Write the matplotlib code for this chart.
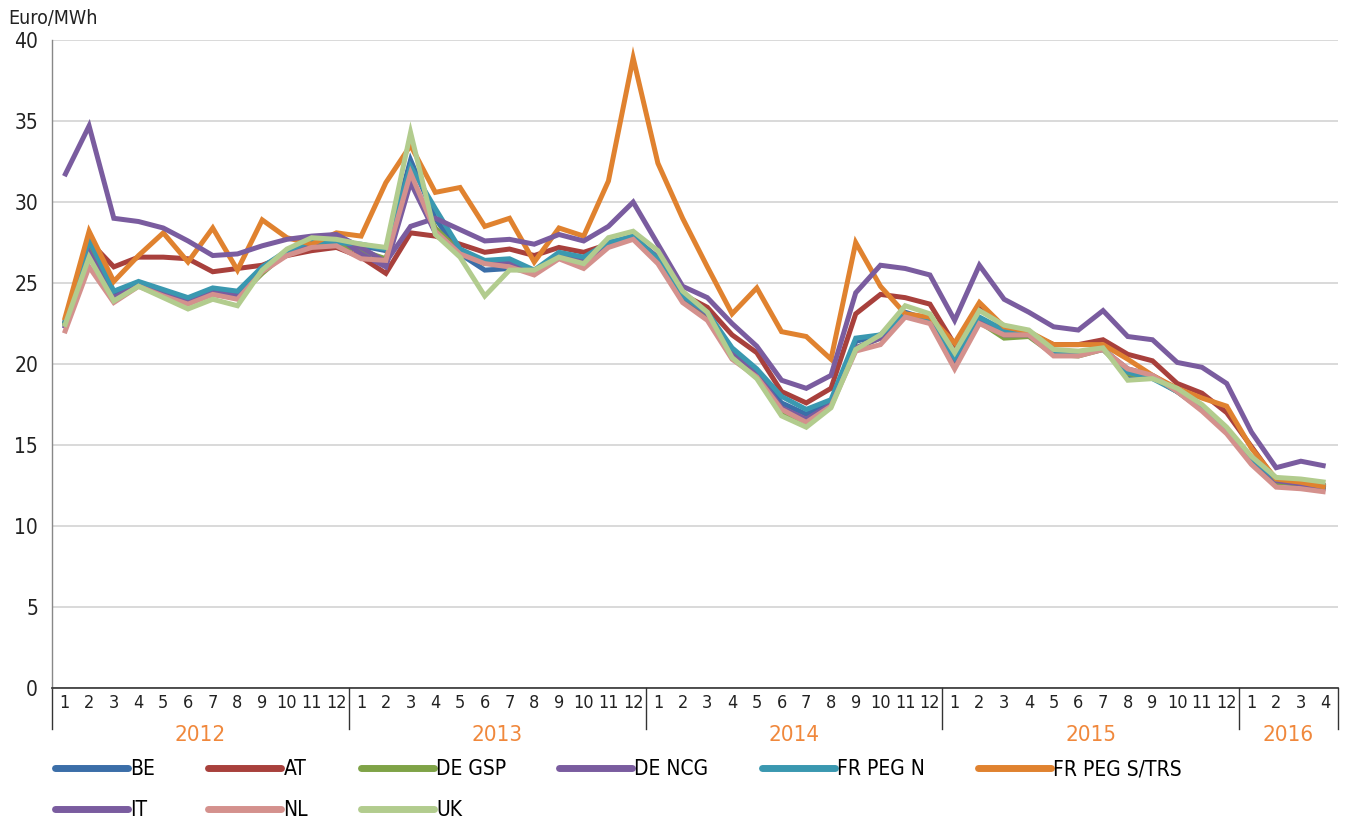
import matplotlib
matplotlib.use("Agg")
import matplotlib.pyplot as plt
import matplotlib.transforms as mtransforms
import numpy as np

plt.rcParams["font.family"] = ["DejaVu Sans"]
plt.rcParams["font.stretch"] = "condensed"

# ── data ──────────────────────────────────────────────────────────────────
YEARS = ["2012", "2013", "2014", "2015", "2016"]
MONTHS_PER_YEAR = [12, 12, 12, 12, 4]
MONTH_LABELS = [str(m) for n in MONTHS_PER_YEAR for m in range(1, n + 1)]

BE = [22.3, 27.4, 24.3, 25.0, 24.5, 24.0, 24.6, 24.3, 25.8, 26.8, 27.5, 27.5,
      27.3, 27.0, 32.6, 29.0, 26.8, 25.8, 25.9, 25.7, 26.7, 26.4, 27.5, 27.8,
      26.5, 24.1, 23.1, 20.7, 19.4, 17.6, 16.9, 17.6, 21.4, 21.8, 23.2, 22.7,
      20.3, 22.8, 22.0, 21.9, 20.7, 20.6, 21.0, 19.3, 19.2, 18.3, 17.2, 15.9,
      14.1, 12.7, 12.6, 12.3]
AT = [22.5, 27.6, 26.0, 26.6, 26.6, 26.5, 25.7, 25.9, 26.1, 26.7, 27.0, 27.2,
      26.6, 25.6, 28.1, 27.9, 27.4, 26.9, 27.1, 26.7, 27.2, 26.9, 27.4, 27.9,
      26.5, 24.3, 23.5, 21.8, 20.7, 18.3, 17.6, 18.5, 23.1, 24.3, 24.1, 23.7,
      21.2, 23.6, 22.3, 21.9, 21.2, 21.2, 21.5, 20.6, 20.2, 18.8, 18.2, 17.0,
      14.9, 12.8, 12.6, 12.5]
DE_GSP = [22.4, 27.0, 24.0, 24.9, 24.3, 23.9, 24.3, 24.1, 25.6, 26.9, 27.4, 27.4,
          27.0, 26.5, 31.5, 28.4, 26.9, 26.2, 26.3, 25.7, 26.6, 26.2, 27.4, 27.8,
          26.5, 24.2, 23.0, 20.7, 19.3, 17.0, 16.4, 17.5, 21.0, 21.6, 23.0, 22.6,
          20.2, 22.6, 21.6, 21.7, 20.6, 20.5, 20.9, 19.4, 19.2, 18.3, 17.2, 15.9,
          14.1, 12.7, 12.6, 12.3]
DE_NCG = [22.2, 26.9, 24.1, 24.9, 24.3, 23.9, 24.4, 24.2, 25.8, 26.9, 27.4, 27.9,
          26.8, 26.0, 31.2, 28.1, 26.9, 26.3, 26.3, 25.7, 26.6, 26.3, 27.4, 27.8,
          26.6, 24.2, 23.1, 20.7, 19.4, 17.3, 16.6, 17.5, 21.0, 21.6, 23.0, 22.6,
          20.3, 22.7, 21.8, 21.8, 20.6, 20.6, 20.9, 19.7, 19.3, 18.4, 17.3, 16.0,
          14.2, 12.8, 12.6, 12.3]
FR_PEG_N = [22.5, 27.7, 24.5, 25.1, 24.6, 24.1, 24.7, 24.5, 26.0, 27.0, 27.6, 27.5,
            27.4, 27.1, 32.2, 29.6, 27.1, 26.4, 26.5, 25.8, 26.9, 26.6, 27.5, 27.9,
            26.5, 24.2, 23.2, 21.0, 19.7, 18.0, 17.2, 17.8, 21.6, 21.8, 23.1, 22.7,
            20.4, 22.9, 22.1, 21.9, 20.8, 20.6, 21.0, 19.5, 19.1, 18.3, 17.3, 16.0,
            14.2, 12.9, 12.8, 12.4]
FR_PEG_S = [22.7, 28.2, 25.1, 26.7, 28.1, 26.3, 28.4, 25.8, 28.9, 27.8, 27.4, 28.1,
            27.9, 31.2, 33.5, 30.6, 30.9, 28.5, 29.0, 26.3, 28.4, 27.9, 31.3, 38.9,
            32.4, 29.0, 26.0, 23.1, 24.7, 22.0, 21.7, 20.3, 27.5, 24.8, 23.1, 22.9,
            21.3, 23.8, 22.3, 22.0, 21.2, 21.2, 21.2, 20.3, 19.3, 18.5, 17.9, 17.4,
            14.8, 12.9, 12.7, 12.4]
IT = [31.6, 34.7, 29.0, 28.8, 28.4, 27.6, 26.7, 26.8, 27.3, 27.7, 27.9, 28.0,
      27.2, 26.3, 28.5, 29.0, 28.3, 27.6, 27.7, 27.4, 28.0, 27.6, 28.5, 30.0,
      27.4, 24.8, 24.1, 22.5, 21.1, 19.0, 18.5, 19.3, 24.4, 26.1, 25.9, 25.5,
      22.7, 26.1, 24.0, 23.2, 22.3, 22.1, 23.3, 21.7, 21.5, 20.1, 19.8, 18.8,
      15.8, 13.6, 14.0, 13.7]
NL = [21.9, 26.0, 23.8, 24.8, 24.2, 23.7, 24.3, 24.0, 25.7, 26.7, 27.2, 27.3,
      26.5, 26.4, 31.8, 28.2, 26.8, 26.2, 26.0, 25.5, 26.5, 25.9, 27.2, 27.7,
      26.2, 23.8, 22.7, 20.3, 19.2, 17.2, 16.4, 17.4, 20.8, 21.2, 22.9, 22.5,
      19.7, 22.5, 21.8, 21.8, 20.5, 20.5, 20.9, 19.7, 19.3, 18.3, 17.1, 15.7,
      13.8, 12.4, 12.3, 12.1]
UK = [22.3, 26.6, 23.9, 24.8, 24.1, 23.4, 24.0, 23.6, 25.8, 27.1, 27.8, 27.7,
      27.4, 27.2, 34.3, 28.0, 26.6, 24.2, 25.8, 25.8, 26.6, 26.2, 27.8, 28.2,
      27.0, 24.5, 23.2, 20.4, 19.1, 16.8, 16.1, 17.3, 20.9, 21.8, 23.6, 23.1,
      20.7, 23.3, 22.4, 22.1, 20.9, 20.8, 21.0, 19.0, 19.1, 18.5, 17.5, 16.1,
      14.3, 13.0, 12.9, 12.7]

SERIES_NAMES = ["BE", "AT", "DE GSP", "DE NCG", "FR PEG N", "FR PEG S/TRS",
                "IT", "NL", "UK"]
SERIES_VALUES = [BE, AT, DE_GSP, DE_NCG, FR_PEG_N, FR_PEG_S, IT, NL, UK]
COLORS = ["#3B6EA8", "#A8403C", "#7FA347", "#7A5C9F", "#3A98B0", "#E0822F",
          "#7A5C9F", "#D4918D", "#B2CC8E"]

# ── figure ────────────────────────────────────────────────────────────────
fig = plt.figure(figsize=(13.47, 8.19), dpi=100)
ax = fig.add_axes([0.0386, 0.160, 0.9547, 0.791])

x = np.arange(len(MONTH_LABELS))
handles = []
for name, vals, col in zip(SERIES_NAMES, SERIES_VALUES, COLORS):
    h, = ax.plot(x, vals, color=col, linewidth=3.6, label=name,
                 solid_joinstyle="miter", solid_capstyle="butt")
    handles.append(h)

ax.set_xlim(-0.5, len(x) - 0.5)
ax.set_ylim(0, 40)
ax.set_yticks(range(0, 41, 5))
ax.yaxis.grid(True, color="#D3D3D3", linewidth=1.2)
ax.set_axisbelow(True)
ax.tick_params(axis="y", length=0, pad=10, labelsize=15, labelcolor="#222222")

ax.set_xticks(x)
ax.set_xticklabels(MONTH_LABELS, fontsize=13, color="#222222")
ax.tick_params(axis="x", length=0, pad=4)

for side in ["top", "right"]:
    ax.spines[side].set_visible(False)
ax.spines["left"].set_color("#888888")
ax.spines["left"].set_linewidth(1.0)
ax.spines["bottom"].set_color("#333333")
ax.spines["bottom"].set_linewidth(1.2)

# year separators and labels
trans = mtransforms.blended_transform_factory(ax.transData, ax.transAxes)
bounds = np.concatenate([[0], np.cumsum(MONTHS_PER_YEAR)]) - 0.5
for b in bounds:
    ax.plot([b, b], [0, -0.064], transform=trans, color="#333333",
            linewidth=1.0, clip_on=False)
for yr, lo, hi in zip(YEARS, bounds[:-1], bounds[1:]):
    ax.text((lo + hi) / 2, -0.072, yr, transform=trans, ha="center", va="center",
            fontsize=16, color="#F0883C")

fig.text(0.006, 0.978, "Euro/MWh", fontsize=14, color="#222222",
         ha="left", va="center")

# legend: row-major order in 6 columns
order = [0, 6, 1, 7, 2, 8, 3, 4, 5]
leg = fig.legend([handles[i] for i in order], [SERIES_NAMES[i] for i in order],
                 loc="upper left", bbox_to_anchor=(0.035, 0.083), ncol=6,
                 frameon=False, fontsize=15, handlelength=3.5, handletextpad=0.1,
                 columnspacing=2.55, labelspacing=1.0, borderaxespad=0)
for line in leg.get_lines():
    line.set_linewidth(5)
    line.set_solid_capstyle("round")

fig.savefig("out.png", dpi=100)
